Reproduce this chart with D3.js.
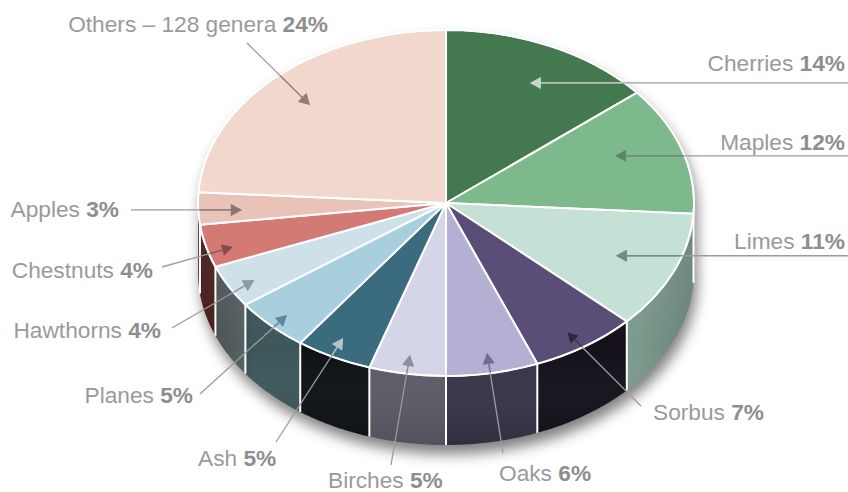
<!DOCTYPE html>
<html>
<head>
<meta charset="utf-8">
<script src="https://cdn.jsdelivr.net/npm/d3@7"></script>
<style>
  html, body { margin: 0; padding: 0; background: #ffffff; }
  svg { display: block; }
</style>
</head>
<body>
<div id="chart"></div>
<script>
// ---------- data ----------
const categories = ["Cherries", "Maples", "Limes", "Sorbus", "Oaks", "Birches", "Ash", "Planes", "Hawthorns", "Chestnuts", "Apples", "Others – 128 genera"];
const values     = [14, 12, 11, 7, 6, 5, 5, 5, 4, 4, 3, 24];
const pctLabels  = ["14%", "12%", "11%", "7%", "6%", "5%", "5%", "5%", "4%", "4%", "3%", "24%"];

// ---------- styles ----------
const topColors   = ["#44784f", "#7eb98b", "#c5e0d5", "#5a4d78", "#b3b0d4", "#d5d5e8", "#3a6b7e", "#a7cfde", "#cfe1e8", "#d47a74", "#e9c3b7", "#f2d7cc"];
const sideColors  = ["#2e5236", "#5e8a66", "#7c9a8d", "#131019", "#383449", "#5c5b67", "#0d1115", "#3d575a", "#5a6669", "#5a2624", "#7a4e48", "#8a706a"];
const arrowColors = ["#c4d6c8", "#5d8868", "#6f8d83", "#2c2840", "#6f6d8e", "#8d8ca3", "#b3c4ca", "#5f8a9c", "#8a9ca4", "#8a4a48", "#8a7672", "#8f7f7a"];

// label layout (annotation placement): text position/anchor, tail of leader line, tip (angle deg, radius fraction)
const labelText   = [[845,71,"end"],[845,150,"end"],[845,249,"end"],[653,420,"start"],[499,481,"start"],[328,488,"start"],[198,466,"start"],[193,403,"end"],[161,338,"end"],[153,278,"end"],[119,217,"end"],[328,32,"end"]];
const labelTail   = [[848,null],[848,null],[848,null],[641,406],[503,453],[391,465],[276,442],[200,394],[172,328],[162,267],[131,null],[247,43]];
const tipDeg      = [26, 68.2, 114, 146.8, 169.2, 189.4, 208, 224.7, 240, 253.5, 267.2, 315.9];
const tipR        = [0.772, 0.734, 0.75, 0.891, 0.883, 0.89, 0.884, 0.911, 0.893, 0.896, 0.824, 0.788];

// ---------- geometry ----------
const W = 848, H = 492;
const cx = 446, cy = 203, rx = 248, ry = 173, depth = 69;

const svg = d3.select("#chart").append("svg")
  .attr("width", W).attr("height", H)
  .attr("viewBox", `0 0 ${W} ${H}`);

const defs = svg.append("defs");
defs.append("filter").attr("id", "blur")
  .attr("x", "-20%").attr("y", "-20%").attr("width", "140%").attr("height", "140%")
  .append("feGaussianBlur").attr("stdDeviation", 7);

const vg = defs.append("linearGradient").attr("id", "sideShade")
  .attr("gradientUnits", "userSpaceOnUse")
  .attr("x1", 0).attr("y1", cy).attr("x2", 0).attr("y2", cy + ry + depth);
vg.append("stop").attr("offset", 0).attr("stop-color", "#ffffff").attr("stop-opacity", 0.10);
vg.append("stop").attr("offset", 0.6).attr("stop-color", "#ffffff").attr("stop-opacity", 0.0);
vg.append("stop").attr("offset", 1).attr("stop-color", "#000000").attr("stop-opacity", 0.12);

const hg = defs.append("linearGradient").attr("id", "sideEdge")
  .attr("gradientUnits", "userSpaceOnUse")
  .attr("x1", cx - rx).attr("y1", 0).attr("x2", cx + rx).attr("y2", 0);
hg.append("stop").attr("offset", 0).attr("stop-color", "#000").attr("stop-opacity", 0.25);
hg.append("stop").attr("offset", 0.12).attr("stop-color", "#000").attr("stop-opacity", 0.0);
hg.append("stop").attr("offset", 0.88).attr("stop-color", "#000").attr("stop-opacity", 0.0);
hg.append("stop").attr("offset", 1).attr("stop-color", "#000").attr("stop-opacity", 0.15);

const P = (a, r = 1, dy = 0) => [cx + rx * r * Math.sin(a), cy - ry * r * Math.cos(a) + dy];
const line = d3.line();

function sidePath(s, e) {
  const n = Math.max(2, Math.ceil((e - s) / 0.01));
  const angs = d3.range(n + 1).map(i => s + (e - s) * i / n);
  const pts = angs.map(a => P(a)).concat(angs.slice().reverse().map(a => P(a, 1, depth)));
  return line(pts) + "Z";
}

const pie = d3.pie().sort(null).value(d => d).startAngle(0).endAngle(2 * Math.PI);
const arcs = pie(values);

// ---------- shadow ----------
const silhouette = sidePath(Math.PI / 2, 3 * Math.PI / 2);
const sh = svg.append("g").attr("filter", "url(#blur)").attr("opacity", 0.5)
  .attr("transform", "translate(3,9)");
sh.append("ellipse").attr("cx", cx).attr("cy", cy).attr("rx", rx).attr("ry", ry).attr("fill", "#000");
sh.append("path").attr("d", silhouette).attr("fill", "#000");

// ---------- sides ----------
const sides = svg.append("g");
arcs.forEach((d, i) => {
  const s = Math.max(d.startAngle, Math.PI / 2), e = Math.min(d.endAngle, 3 * Math.PI / 2);
  if (e > s) {
    sides.append("path").attr("d", sidePath(s, e)).attr("fill", sideColors[i]);
  }
});
sides.append("path").attr("d", silhouette).attr("fill", "url(#sideShade)");
sides.append("path").attr("d", silhouette).attr("fill", "url(#sideEdge)");
arcs.forEach(d => {
  const a = d.startAngle;
  if (a > Math.PI / 2 && a < 3 * Math.PI / 2) {
    const p0 = P(a), p1 = P(a, 1, depth);
    sides.append("line").attr("x1", p0[0]).attr("y1", p0[1]).attr("x2", p1[0]).attr("y2", p1[1])
      .attr("stroke", "#fff").attr("stroke-width", 2);
  }
});

// ---------- top face ----------
const arcGen = d3.arc().innerRadius(0).outerRadius(rx);
const topFace = svg.append("g").attr("transform", `translate(${cx},${cy}) scale(1,${ry / rx})`);
topFace.selectAll("path.slice").data(arcs).join("path")
  .attr("class", "slice")
  .attr("d", arcGen)
  .attr("fill", (d, i) => topColors[i])
  .attr("stroke", "#fff")
  .attr("stroke-width", 2)
  .attr("stroke-linejoin", "round")
  .attr("vector-effect", "non-scaling-stroke");
topFace.append("circle").attr("r", rx).attr("fill", "none")
  .attr("stroke", "#fff").attr("stroke-width", 1.6)
  .attr("vector-effect", "non-scaling-stroke");

// ---------- leader lines ----------
defs.append("clipPath").attr("id", "topClip")
  .append("ellipse").attr("cx", cx).attr("cy", cy).attr("rx", rx - 1).attr("ry", ry - 1);

const leaders = svg.append("g");
const leadersIn = svg.append("g").attr("clip-path", "url(#topClip)");
const toRad = Math.PI / 180;

arcs.forEach((d, i) => {
  const tip = P(tipDeg[i] * toRad, tipR[i]);
  const tail = [labelTail[i][0], labelTail[i][1] === null ? tip[1] : labelTail[i][1]];
  const dx = tip[0] - tail[0], dy = tip[1] - tail[1];
  const len = Math.hypot(dx, dy), ux = dx / len, uy = dy / len;
  const hl = 11, hw = 6;
  const base = [tip[0] - ux * hl, tip[1] - uy * hl];
  const head = [tip, [base[0] - uy * hw, base[1] + ux * hw], [base[0] + uy * hw, base[1] - ux * hw]];
  [[leaders, "#9c9c9c"], [leadersIn, arrowColors[i]]].forEach(([g, col]) => {
    g.append("line")
      .attr("x1", tail[0]).attr("y1", tail[1]).attr("x2", base[0]).attr("y2", base[1])
      .attr("stroke", col).attr("stroke-width", 1.3);
    g.append("path").attr("d", line(head) + "Z").attr("fill", col);
  });
});

// ---------- labels ----------
const labels = svg.append("g")
  .attr("font-family", "'Liberation Sans', Arial, Helvetica, sans-serif")
  .attr("font-size", 22.7)
  .attr("fill", "#9a9a9a");
categories.forEach((c, i) => {
  const t = labels.append("text")
    .attr("x", labelText[i][0]).attr("y", labelText[i][1])
    .attr("text-anchor", labelText[i][2]);
  t.append("tspan").text(c + " ");
  t.append("tspan").attr("font-weight", "bold").attr("fill", "#8e8e8e").text(pctLabels[i]);
});
</script>
</body>
</html>
